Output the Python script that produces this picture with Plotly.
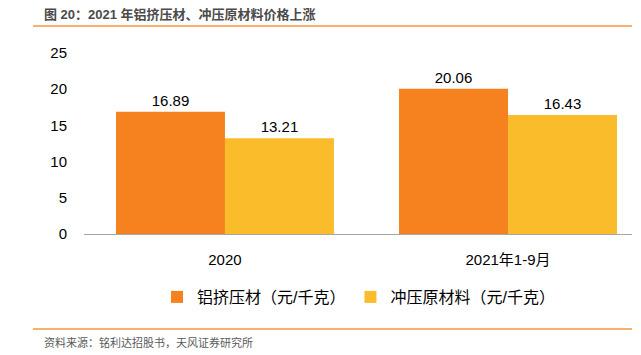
import plotly.graph_objects as go

categories = ["2020", "2021年1-9月"]
series_names = ["铝挤压材（元/千克）", "冲压原材料（元/千克）"]
aluminum = [16.89, 20.06]
stamping = [13.21, 16.43]
y_ticks = [0, 5, 10, 15, 20, 25]

colors = ["#F5821F", "#FBBC2C"]
FONT = "Arial, 'Liberation Sans', 'Noto Sans CJK SC', sans-serif"

W, H = 641, 355
L, R, T, B = 84, 9, 53, 121
PW, PH = W - L - R, H - T - B


def px(x):
    return (x - L) / PW


def py(y):
    return (H - B - y) / PH


fig = go.Figure()
for name, vals, col in zip(series_names, [aluminum, stamping], colors):
    fig.add_trace(go.Bar(
        x=categories, y=vals, name=name,
        marker=dict(color=col, line=dict(width=0)),
        text=[f"{v:.2f}" for v in vals],
        textposition="outside",
        textfont=dict(size=15, color="#000000", family=FONT),
        cliponaxis=False,
    ))

fig.update_layout(
    width=W, height=H,
    margin=dict(l=L, r=R, t=T, b=B, pad=0),
    paper_bgcolor="white", plot_bgcolor="white",
    barmode="group", bargap=0.23, bargroupgap=0,
    font=dict(family=FONT, color="#000000"),
    showlegend=True,
    legend=dict(
        orientation="h", x=157 / W, xanchor="left", xref="container",
        y=1 - 297 / H, yanchor="middle", yref="container",
        font=dict(size=16, color="#000000", family=FONT),
        itemwidth=30, bgcolor="rgba(0,0,0,0)",
        traceorder="normal",
    ),
    xaxis=dict(
        type="category", range=[-0.498, 1.438],
        showline=True, linecolor="#A6A6A6", linewidth=1,
        showgrid=False, zeroline=False, ticks="",
        tickfont=dict(size=15, color="#000000", family=FONT),
        ticklabelstandoff=12,
    ),
    yaxis=dict(
        range=[0, 25], tickvals=y_ticks,
        showline=False, showgrid=False, zeroline=False, ticks="",
        tickfont=dict(size=15, color="#000000", family=FONT),
        ticklabelstandoff=16,
    ),
)

# header / footer rules
for yy in (26, 329):
    fig.add_shape(type="line", xref="paper", yref="paper",
                  x0=px(33), x1=px(632), y0=py(yy), y1=py(yy),
                  line=dict(color="#F7943C", width=1.5))

fig.add_annotation(text="<b>图 20：2021 年铝挤压材、冲压原材料价格上涨</b>",
                   xref="paper", yref="paper",
                   x=px(42), y=py(14),
                   xanchor="left", yanchor="middle", showarrow=False,
                   font=dict(size=13, color="#4A4A4A", family=FONT))
fig.add_annotation(text="资料来源：铭利达招股书，天风证券研究所",
                   xref="paper", yref="paper",
                   x=px(42), y=py(342),
                   xanchor="left", yanchor="middle", showarrow=False,
                   font=dict(size=11, color="#595959", family=FONT))

fig.write_html("out.html",
               config={"displayModeBar": False},
               post_script="document.body.style.margin='0';document.body.style.padding='0';")
